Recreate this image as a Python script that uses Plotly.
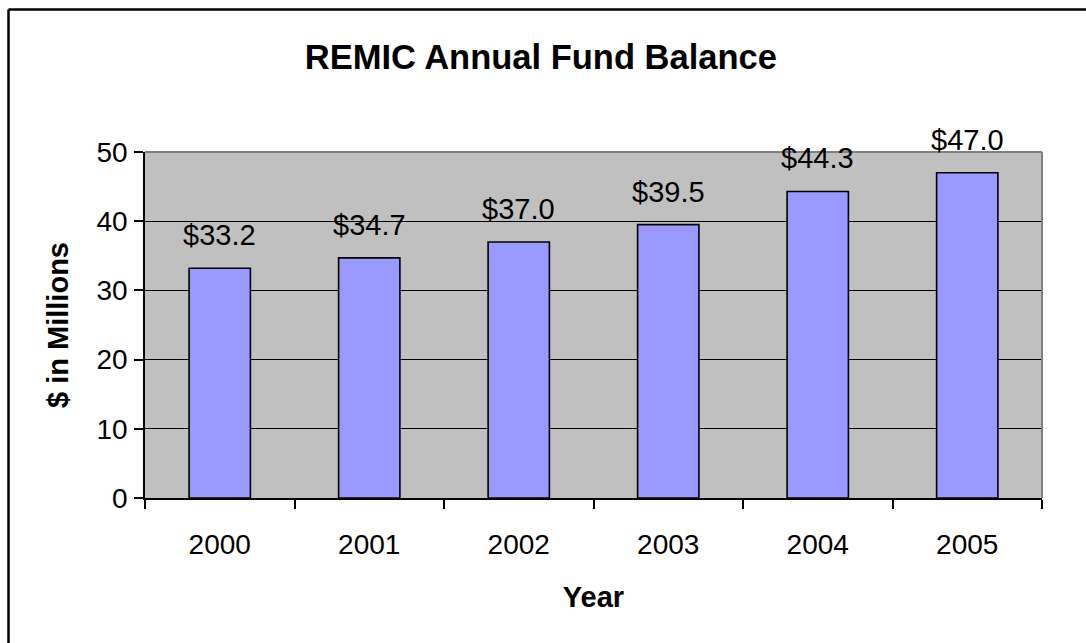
import plotly.graph_objects as go

years = ["2000", "2001", "2002", "2003", "2004", "2005"]
balances = [33.2, 34.7, 37.0, 39.5, 44.3, 47.0]
bar_labels = ["$33.2", "$34.7", "$37.0", "$39.5", "$44.3", "$47.0"]
y_ticks = [0, 10, 20, 30, 40, 50]

FONT = "Liberation Sans, Arial, sans-serif"

fig = go.Figure()
fig.add_trace(go.Bar(
    x=years, y=balances,
    marker=dict(color="#9999FF", line=dict(color="black", width=1.6)),
    hoverinfo="x+y",
))

for i, (v, lab) in enumerate(zip(balances, bar_labels)):
    fig.add_annotation(x=i, y=v, xref="x", yref="y", text=lab, showarrow=False,
                       yanchor="bottom", yshift=15,
                       font=dict(family=FONT, size=29, color="black"))

L, R, T, B = 145, 44, 152, 145
W, H = 1086, 643
pw, ph = W - L - R, H - T - B

def px_x(p):
    return (p - L) / pw

def px_y(p):
    return (H - B - p) / ph

# outer chart frame (top and left visible)
fig.add_shape(type="line", xref="paper", yref="paper",
              x0=px_x(8.5), x1=px_x(1095), y0=px_y(9.5), y1=px_y(9.5),
              line=dict(color="black", width=2.5))
fig.add_shape(type="line", xref="paper", yref="paper",
              x0=px_x(8.5), x1=px_x(8.5), y0=px_y(9.5), y1=px_y(660),
              line=dict(color="black", width=2.5))
# grey top and right borders of plot area
fig.add_shape(type="line", xref="paper", yref="paper",
              x0=0, x1=1, y0=1, y1=1, line=dict(color="#808080", width=2))
fig.add_shape(type="line", xref="paper", yref="paper",
              x0=1, x1=1, y0=0, y1=1, line=dict(color="#808080", width=2))

fig.update_layout(
    width=W, height=H,
    margin=dict(l=L, r=R, t=T, b=B, pad=0),
    paper_bgcolor="white",
    plot_bgcolor="#C0C0C0",
    showlegend=False,
    bargap=0.59,
    font=dict(family=FONT, color="black"),
    title=dict(text="<b>REMIC Annual Fund Balance</b>", x=0.498, xref="container",
               y=1 - 57 / H, yref="container", yanchor="middle", xanchor="center",
               font=dict(family=FONT, size=34.5, color="black")),
    xaxis=dict(
        type="category",
        range=[-0.5, len(years) - 0.5],
        title=dict(text="<b>Year</b>", font=dict(family=FONT, size=29), standoff=27),
        tickfont=dict(family=FONT, size=28),
        showline=True, linecolor="black", linewidth=1.5,
        ticks="outside", ticklen=9, tickcolor="black", tickwidth=1.5,
        tickson="boundaries", ticklabelstandoff=21,
        showgrid=False, zeroline=False,
    ),
    yaxis=dict(
        title=dict(text="<b>$ in Millions</b>", font=dict(family=FONT, size=29), standoff=19),
        tickfont=dict(family=FONT, size=28),
        range=[0, 50], tickvals=y_ticks,
        showline=True, linecolor="black", linewidth=1.5,
        ticks="outside", ticklen=9, tickcolor="black", tickwidth=1.5,
        ticklabelstandoff=1,
        showgrid=True, gridcolor="black", gridwidth=1,
        zeroline=False,
    ),
)

fig.write_html("out.html")
